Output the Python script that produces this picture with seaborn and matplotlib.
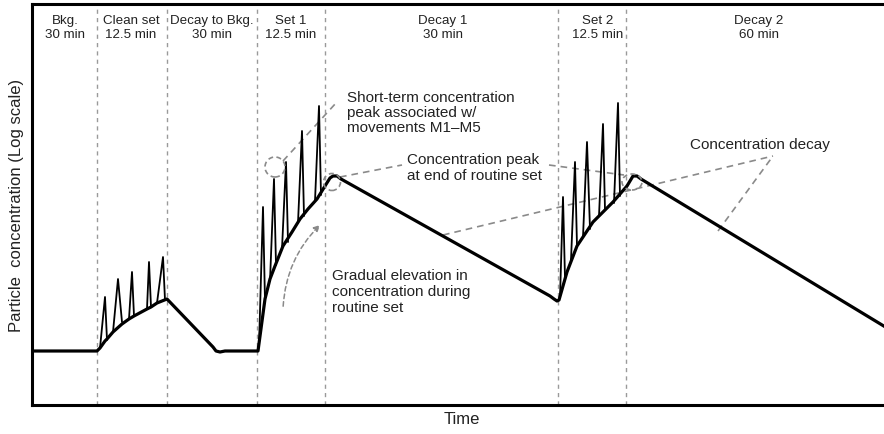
import numpy as np
import pandas as pd
import matplotlib.pyplot as plt
import seaborn as sns
from matplotlib.patches import Ellipse, FancyArrowPatch

###############################
# SCHEMATIC DATA (read off)   #
###############################

# phase boundaries on the (schematic) time axis
phase_edges = [65, 135, 225, 293, 526, 594]
phase_names = ["Bkg.\n30 min", "Clean set\n12.5 min", "Decay to Bkg.\n30 min", "Set 1\n12.5 min",
               "Decay 1\n30 min", "Set 2\n12.5 min", "Decay 2\n60 min"]
phase_label_x = [33, 99, 180, 259, 411, 566, 727]

# smooth (gradual) concentration curve
base_x = [0, 65, 68, 73, 75, 81, 90, 97, 102, 115, 119, 125, 135,
          181, 184, 188, 193, 226,
          233, 238, 243, 251, 260, 268, 276, 285, 293, 298, 301, 305, 309,
          518, 522, 525, 527,
          535, 545, 561, 581, 595, 601, 605, 609, 860]
base_y = [54, 54, 57, 64, 66, 73, 81, 86, 89, 96, 98, 102, 106,
          58, 54, 53, 54, 54,
          106, 126, 139, 159, 173, 186, 196, 206, 219, 227, 229, 229, 226,
          109, 106, 104, 105,
          133, 159, 183, 203, 219, 229, 229, 226, 74]

# short-term spikes: left foot, peak, right foot
spike_left_x = [68, 81, 97, 115, 125, 227, 238, 250, 266, 283, 528, 539, 551, 567, 582]
spike_left_y = [57, 73, 86, 96, 102, 59, 124, 156, 182, 204, 107, 145, 168, 189, 202]
spike_peak_x = [73, 86, 100, 117, 131, 231, 242, 254, 270, 287, 531, 543, 555, 571, 586]
spike_peak_y = [108, 126, 133, 143, 148, 198, 226, 243, 274, 299, 208, 243, 263, 281, 302]
spike_right_x = [75, 90, 102, 119, 133, 233, 244, 256, 272, 289, 533, 545, 558, 573, 588]
spike_right_y = [65, 83, 89, 98, 105, 104, 140, 163, 189, 210, 127, 159, 176, 195, 209]

base = pd.DataFrame({"time": base_x, "conc": base_y})
spikes = pd.DataFrame({
	"time": np.ravel(np.column_stack([spike_left_x, spike_peak_x, spike_right_x])),
	"conc": np.ravel(np.column_stack([spike_left_y, spike_peak_y, spike_right_y])),
	"spike": np.repeat(np.arange(len(spike_peak_x)), 3),
})

############################
# PLOT                     #
############################

sns.set_theme(style="white")
plt.rcParams["font.family"] = ["Liberation Sans", "DejaVu Sans"]

fig = plt.figure(figsize=(8.84, 4.35), dpi=100)
ax = fig.add_axes([32 / 884, 29 / 435, 860 / 884, 401 / 435])
ax.set_xlim(0, 860)
ax.set_ylim(0, 401)

gray = "#8a8a8a"
txt = "#222222"

# phase separators
for xe in phase_edges:
	ax.axvline(xe, color="#9a9a9a", lw=1.0, ls=(0, (3, 3)), zorder=1)
for xl, name in zip(phase_label_x, phase_names):
	ax.text(xl, 378, name, ha="center", va="center", fontsize=9.6, color=txt, linespacing=1.2)

sns.lineplot(data=spikes, x="time", y="conc", units="spike", estimator=None, sort=False,
             color="black", lw=1.3, ax=ax, zorder=3)
sns.lineplot(data=base, x="time", y="conc", estimator=None, sort=False,
             color="black", lw=2.3, ax=ax, zorder=4)

# dashed circles around peaks
for cx, cy, w, h in [(243, 238, 20, 20), (300, 223, 17, 17), (600, 223, 20, 16)]:
	ax.add_patch(Ellipse((cx, cy), w, h, fill=False, ec=gray, lw=1.2, ls=(0, (3, 2)), zorder=5))

# leader lines
leaders = [((251, 244), (304, 302)),
           ((308, 228), (370, 240)),
           ((517, 240), (592, 230)),
           ((411, 170), (741, 249)),
           ((686, 174), (741, 249))]
for (x0, y0), (x1, y1) in leaders:
	ax.plot([x0, x1], [y0, y1], color=gray, lw=1.2, ls=(0, (4, 3)), zorder=2)

arrow = FancyArrowPatch((251, 96), (290, 182), connectionstyle="arc3,rad=-0.2",
                        arrowstyle="-|>", mutation_scale=9, color=gray, lw=1.1,
                        ls=(0, (3, 2)), zorder=2)
ax.add_patch(arrow)

# annotations
ax.text(315, 293, "Short-term concentration\npeak associated w/\nmovements M1\u2013M5",
        ha="left", va="center", fontsize=11, color=txt, linespacing=1.05)
ax.text(375, 238, "Concentration peak\nat end of routine set",
        ha="left", va="center", fontsize=11, color=txt, linespacing=1.2)
ax.text(300, 114, "Gradual elevation in\nconcentration during\nroutine set",
        ha="left", va="center", fontsize=11, color=txt, linespacing=1.2)
ax.text(658, 261, "Concentration decay", ha="left", va="center", fontsize=11, color=txt)

ax.set_xticks([])
ax.set_yticks([])
ax.set_xlabel("Time", fontsize=12, color=txt, labelpad=4)
ax.set_ylabel("Particle  concentration (Log scale)", fontsize=12, color=txt, labelpad=6)
for side in ["top", "bottom", "left"]:
	ax.spines[side].set_linewidth(2.2)
	ax.spines[side].set_color("black")
ax.spines["right"].set_visible(False)

plt.savefig("out.png", dpi=100)
